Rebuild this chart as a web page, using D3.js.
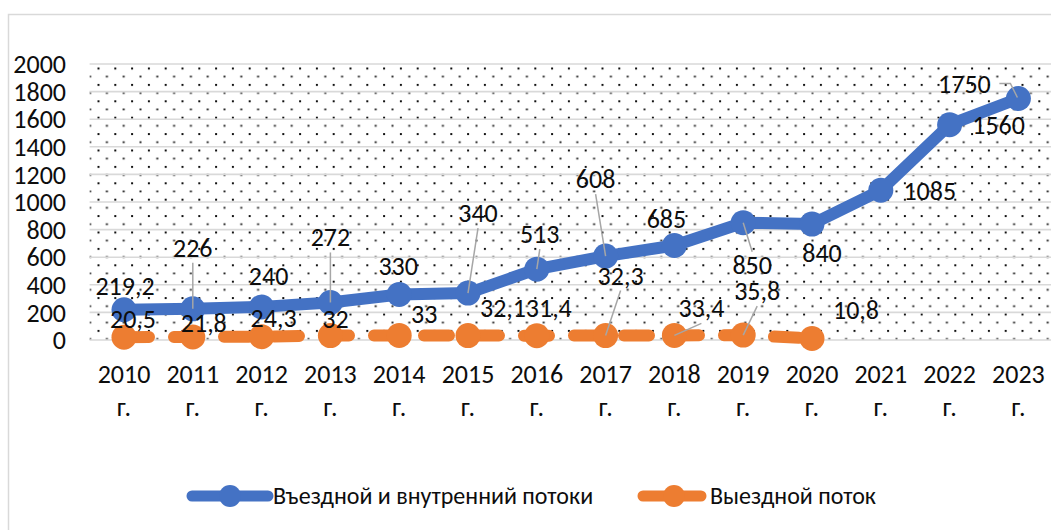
<!DOCTYPE html>
<html>
<head>
<meta charset="utf-8">
<script src="https://cdn.jsdelivr.net/npm/d3@7"></script>
<style>
  body { margin: 0; background: #fff; }
  svg { display: block; }
  text { font-family: Carlito, "Liberation Sans", sans-serif; fill: #0d0d0d; }
</style>
</head>
<body>
<svg></svg>
<script>
const width = 1051, height = 530;
const svg = d3.select("svg").attr("width", width).attr("height", height);

// Data
const years = ["2010", "2011", "2012", "2013", "2014", "2015", "2016", "2017", "2018", "2019", "2020", "2021", "2022", "2023"];
const inbound = [219.2, 226, 240, 272, 330, 340, 513, 608, 685, 850, 840, 1085, 1560, 1750];
const outbound = [20.5, 21.8, 24.3, 32, 33, 32.1, 31.4, 32.3, 33.4, 35.8, 10.8];
const yTicks = [0, 200, 400, 600, 800, 1000, 1200, 1400, 1600, 1800, 2000];
const seriesNames = ["Въездной и внутренний потоки", "Выездной поток"];

// label placement (offset from point: dx, dy to baseline, leader line?)
const inboundLabelPos = [[1, -15, 0], [0, -52, 1], [7, -22, 0], [0, -56, 1], [-1, -19, 0], [10, -71, 1], [3, -26, 1],
  [-10, -68, 1], [-8, -17, 0], [9, 51, 1], [10, 38, 0], [49, 10, 0], [49, 9, 0], [-54, -6, 2]];
const outboundLabelPos = [[9, -9, 0], [11, -5, 0], [12, -10, 0], [5, -8, 0], [25, -12, 0], [35, -19, 0], [12, -19, 0],
  [15, -51, 1], [27, -18, 1], [14, -35, 1], [44, -20, 0]];

const fmt = v => String(v).replace(".", ",");
const fs = 26;

const margin = { left: 89.6, top: 64, bottom: 340 };
const x = d3.scaleBand().domain(years).range([margin.left, margin.left + 68.8 * years.length]);
const y = d3.scaleLinear().domain([0, 2000]).range([margin.bottom, margin.top]);
const cx = d => x(d) + x.bandwidth() / 2;

// outer border
svg.append("rect").attr("x", 8.5).attr("y", 14.5).attr("width", 1200).attr("height", 700)
  .attr("fill", "#fff").attr("stroke", "#d9d9d9").attr("stroke-width", 1.5);

// dotted background
const defs = svg.append("defs");
const pat = defs.append("pattern").attr("id", "dots").attr("patternUnits", "userSpaceOnUse")
  .attr("width", 16.8).attr("height", 16.4).attr("x", 97.5).attr("y", 67.5);
pat.append("rect").attr("x", 0).attr("y", 0).attr("width", 2).attr("height", 2).attr("fill", "#111");
pat.append("rect").attr("x", 8.4).attr("y", 8.2).attr("width", 2).attr("height", 1.8).attr("fill", "#222");

svg.append("rect").attr("x", margin.left).attr("y", margin.top)
  .attr("width", width - margin.left).attr("height", margin.bottom - margin.top)
  .attr("fill", "url(#dots)");

// gridlines
svg.append("g").selectAll("line").data(yTicks).join("line")
  .attr("x1", margin.left).attr("x2", width + 5)
  .attr("y1", d => y(d)).attr("y2", d => y(d))
  .attr("stroke", "#d9d9d9").attr("stroke-width", 1.6);

// y axis labels
svg.append("g").selectAll("text").data(yTicks).join("text")
  .attr("x", 66).attr("y", d => y(d)).attr("dy", "0.35em")
  .attr("text-anchor", "end").attr("font-size", fs).text(d => d);

// x axis labels
const xl = svg.append("g").selectAll("text").data(years).join("text")
  .attr("x", d => cx(d)).attr("text-anchor", "middle").attr("font-size", fs);
xl.append("tspan").attr("x", d => cx(d)).attr("y", 383).text(d => d);
xl.append("tspan").attr("x", d => cx(d)).attr("y", 416).text("г.");

const blue = "#4472c4", orange = "#ed7d31";

// inbound line
svg.append("path").datum(inbound)
  .attr("d", d3.line().x((d, i) => cx(years[i])).y(d => y(d)))
  .attr("fill", "none").attr("stroke", blue).attr("stroke-width", 12).attr("stroke-linejoin", "round");
svg.append("g").selectAll("circle").data(inbound).join("circle")
  .attr("cx", (d, i) => cx(years[i])).attr("cy", d => y(d)).attr("r", 12.5).attr("fill", blue);

// outbound line
svg.append("path").datum(outbound)
  .attr("d", d3.line().x((d, i) => cx(years[i])).y(d => y(d)))
  .attr("fill", "none").attr("stroke", orange).attr("stroke-width", 12)
  .attr("stroke-dasharray", "25,25").attr("stroke-linecap", "round");
svg.append("g").selectAll("circle").data(outbound).join("circle")
  .attr("cx", (d, i) => cx(years[i])).attr("cy", d => y(d)).attr("r", 12.5).attr("fill", orange);

// data labels with leader lines
function labels(values, pos) {
  const g = svg.append("g");
  values.forEach((v, i) => {
    const px = cx(years[i]), py = y(v);
    const [dx, dy, lead] = pos[i];
    const lx = px + dx, ly = py + dy;
    if (lead === 1) {
      const sy = dy < 0 ? ly + 6 : ly - 22;
      g.append("line").attr("x1", lx).attr("y1", sy).attr("x2", px).attr("y2", py)
        .attr("stroke", "#a6a6a6").attr("stroke-width", 1.5);
    } else if (lead === 2) {
      g.append("path").attr("d", `M${lx + 35},${ly - 9} h11 L${px - 1},${py - 1}`)
        .attr("fill", "none").attr("stroke", "#a6a6a6").attr("stroke-width", 1.5);
    }
    g.append("text").attr("x", lx).attr("y", ly).attr("text-anchor", "middle")
      .attr("font-size", fs).text(fmt(v));
  });
}
labels(inbound, inboundLabelPos);
labels(outbound, outboundLabelPos);

// legend
const legend = [
  { name: seriesNames[0], color: blue, x1: 192, x2: 268, dash: null },
  { name: seriesNames[1], color: orange, x1: 643, x2: 705, dash: "22,14" }
];
const lg = svg.append("g");
legend.forEach(l => {
  lg.append("line").attr("x1", l.x1).attr("x2", l.x2).attr("y1", 496).attr("y2", 496)
    .attr("stroke", l.color).attr("stroke-width", 11).attr("stroke-linecap", "round")
    .attr("stroke-dasharray", l.dash);
  lg.append("circle").attr("cx", (l.x1 + l.x2) / 2).attr("cy", 496).attr("r", 11).attr("fill", l.color);
  lg.append("text").attr("x", l.x2 + 5).attr("y", 496).attr("dy", "0.35em")
    .attr("font-size", 24).text(l.name);
});
</script>
</body>
</html>
